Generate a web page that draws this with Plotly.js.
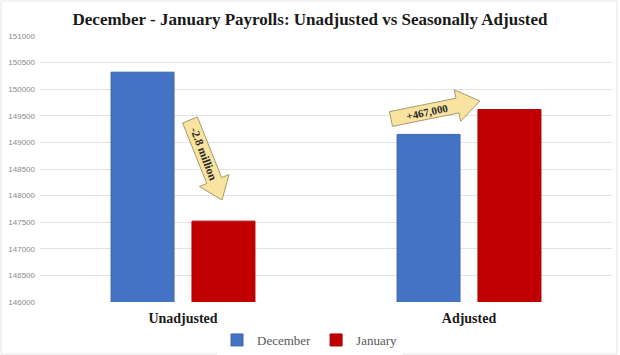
<!DOCTYPE html>
<html><head><meta charset="utf-8">
<script src="https://cdn.plot.ly/plotly-3.0.1.min.js"></script>
<style>body{margin:0;background:#fff}#c{width:620px;height:355px}</style>
</head><body><div id="c"></div>
<script>
const categories = ["Unadjusted", "Adjusted"];
const december = [150320, 149150];
const january = [147520, 149617];
const yTicks = [146000,146500,147000,147500,148000,148500,149000,149500,150000,150500,151000];

const W = 620, H = 355, ML = 40, MR = 8, MT = 36, MB = 53;
const PW = W - ML - MR, PH = H - MT - MB;
const px = x => (x - ML) / PW;
const py = y => (H - MB - y) / PH;

function blockArrow(t, p, w, h, L) {
  const dx = p[0]-t[0], dy = p[1]-t[1], len = Math.hypot(dx, dy);
  const u = [dx/len, dy/len], n = [-u[1], u[0]];
  const b = [p[0]-u[0]*L, p[1]-u[1]*L];
  const pts = [
    [t[0]+n[0]*w, t[1]+n[1]*w], [b[0]+n[0]*w, b[1]+n[1]*w], [b[0]+n[0]*h, b[1]+n[1]*h],
    p, [b[0]-n[0]*h, b[1]-n[1]*h], [b[0]-n[0]*w, b[1]-n[1]*w], [t[0]-n[0]*w, t[1]-n[1]*w]
  ];
  return 'M' + pts.map(q => px(q[0]).toFixed(4) + ',' + py(q[1]).toFixed(4)).join(' L') + ' Z';
}

const arrowStyle = {type:'path', xref:'paper', yref:'paper', fillcolor:'#f8e4a0', line:{color:'#a89a6a', width:1}, layer:'above'};

const traces = [
  {type:'bar', name:'December', x:categories, y:december, marker:{color:'#4472C4', line:{color:'#3d66b0', width:1}}},
  {type:'bar', name:'January', x:categories, y:january, marker:{color:'#C00000', line:{color:'#a80000', width:1}}}
];

const layout = {
  width: W, height: H,
  margin: {l: ML, r: MR, t: MT, b: MB, autoexpand: false},
  paper_bgcolor: '#fff', plot_bgcolor: '#fff',
  title: {text: '<b>December - January Payrolls: Unadjusted vs Seasonally Adjusted</b>',
          font: {family: 'Liberation Serif', size: 17, color: '#1a1a1a'}, x: 0.5, xanchor: 'center', y: 0.945, yanchor: 'middle'},
  barmode: 'group', bargap: 0.434, bargroupgap: 0.222,
  xaxis: {type: 'category', showgrid: false, showline: false, zeroline: false, ticks: '',
          tickfont: {family: 'Liberation Serif', size: 14, color: '#1a1a1a', weight: 'bold'},
          ticklabelstandoff: 6},
  yaxis: {range: [146000, 151000], tickvals: yTicks, ticktext: yTicks.map(String),
          showgrid: true, gridcolor: '#e3e3e3', gridwidth: 1, zeroline: false, showline: false, ticks: '',
          tickfont: {family: 'Liberation Sans', size: 8, color: '#8a8a8a'}, ticklabelstandoff: 4},
  showlegend: true,
  legend: {orientation: 'h', x: px(310), xanchor: 'center', y: py(340), yanchor: 'middle',
           font: {family: 'Liberation Serif', size: 13, color: '#595959'}, itemwidth: 30, traceorder: 'normal'},
  shapes: [
    Object.assign({path: blockArrow([190,120],[222,200],8,16,21)}, arrowStyle),
    Object.assign({path: blockArrow([391,119],[480,101],7.5,16,23)}, arrowStyle),
    {type:'rect', xref:'paper', yref:'paper', x0: px(1), x1: px(617), y0: py(354), y1: py(1), line:{color:'#e6e6e6', width:1}, fillcolor:'rgba(0,0,0,0)', layer:'below'}
  ],
  annotations: [
    {xref:'paper', yref:'paper', x: px(204), y: py(154), xanchor:'center', yanchor:'middle', text:'<b>-2.8 million</b>', showarrow:false, textangle: 69,
     font:{family:'Liberation Serif', size:11.5, color:'#2a2a2a'}},
    {xref:'paper', yref:'paper', x: px(427), y: py(112), xanchor:'center', yanchor:'middle', text:'<b>+467,000</b>', showarrow:false, textangle: -12,
     font:{family:'Liberation Serif', size:11, color:'#2a2a2a'}}
  ]
};

Plotly.newPlot('c', traces, layout, {displayModeBar: false, staticPlot: true});
</script></body></html>
